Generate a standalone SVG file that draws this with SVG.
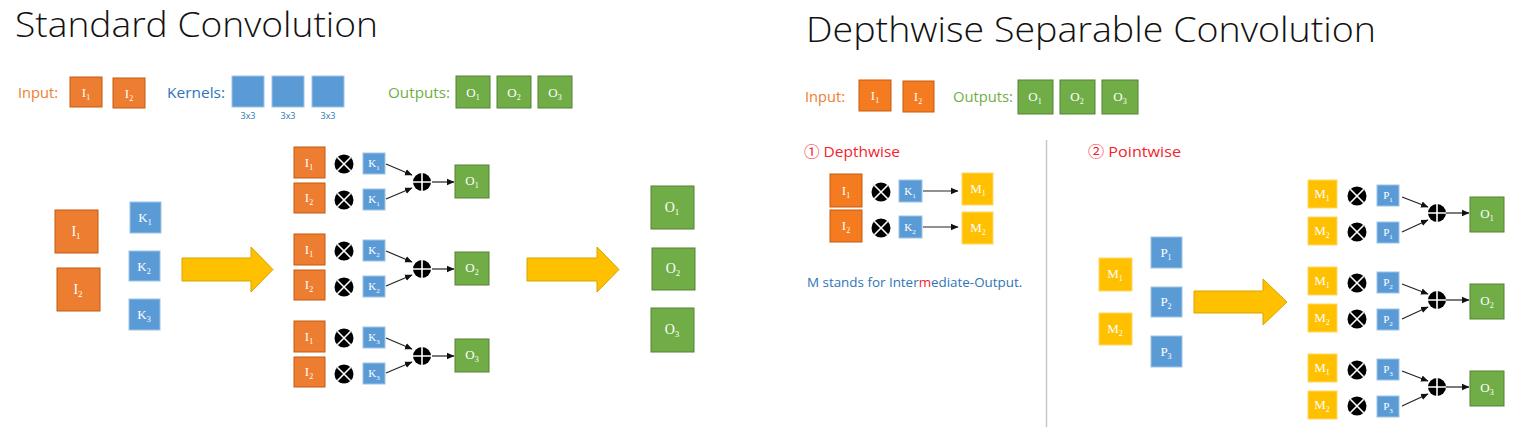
<svg xmlns="http://www.w3.org/2000/svg" xmlns:xlink="http://www.w3.org/1999/xlink" width="1514" height="427" viewBox="0 0 1514 427">
<style>
.title{font-family:"Open Sans","Liberation Sans",sans-serif;font-weight:300;font-size:35px;fill:#111}
.cap{font-family:"Open Sans","Liberation Sans",sans-serif;font-size:15px}
.co{fill:#ED7D31}.cb{fill:#2E75B6}.cg{fill:#70AD47}.cr{fill:#F5222D}
.k33{font-family:"Open Sans","Liberation Sans",sans-serif;font-size:9px;fill:#2E75B6;text-anchor:middle}
.or{fill:#ED7D31;stroke:#C55A11;stroke-width:1}
.or2{fill:#F47B20;stroke:#C55A11;stroke-width:1}
.bl{fill:#5B9BD5;stroke:#9DC3E6;stroke-width:1}
.gr{fill:#70AD47;stroke:#548235;stroke-width:1}
.ye{fill:#FFC000;stroke:#FFD966;stroke-width:1}
.lbl{font-family:"Liberation Serif",serif;fill:#fff;font-size:13px;text-anchor:middle}
.lbs{font-family:"Liberation Serif",serif;fill:#fff;font-size:11px;text-anchor:middle}
.lbb{font-family:"Liberation Serif",serif;fill:#fff;font-size:14px;text-anchor:middle}
.sub{font-size:8px}
.subs{font-size:7px}
.subb{font-size:9px}
.ln{stroke:#222;stroke-width:1.2;fill:none;marker-end:url(#ah)}
.big{fill:#FFC000;stroke:#D9A300;stroke-width:1}
</style>
<defs>
<marker id="ah" markerUnits="userSpaceOnUse" markerWidth="8" markerHeight="8" refX="7" refY="4" orient="auto"><path d="M0,0.8L7.5,4L0,7.2z" fill="#111"/></marker>
<g id="times"><circle r="9.5" fill="#000"/><path d="M-6.7,-6.7L6.7,6.7M6.7,-6.7L-6.7,6.7" stroke="#fff" stroke-width="1.6"/></g>
<g id="plus"><circle r="9" fill="#000"/><path d="M-9,0H9M0,-9V9" stroke="#fff" stroke-width="1.6"/></g>
</defs>
<rect width="1514" height="427" fill="#fff"/>

<!-- Titles -->
<text class="title" x="15" y="37" textLength="363" lengthAdjust="spacingAndGlyphs">Standard Convolution</text>
<text class="title" x="806" y="42" textLength="570" lengthAdjust="spacingAndGlyphs">Depthwise Separable Convolution</text>

<!-- Left legend -->
<g id="legend-left">
<text class="cap co" x="18" y="98" textLength="40" lengthAdjust="spacingAndGlyphs">Input:</text>
<g id="lg-I1"><rect class="or" x="70" y="77" width="32" height="30"/><text class="lbl" x="86" y="97">I<tspan class="sub" dy="3">1</tspan></text></g>
<g id="lg-I2"><rect class="or" x="113" y="78" width="32" height="30"/><text class="lbl" x="129" y="98">I<tspan class="sub" dy="3">2</tspan></text></g>
<text class="cap cb" x="167" y="98" textLength="58" lengthAdjust="spacingAndGlyphs">Kernels:</text>
<g id="lg-K1"><rect class="bl" x="232" y="76" width="32" height="31"/><text class="k33" x="248" y="119">3x3</text></g>
<g id="lg-K2"><rect class="bl" x="272" y="76" width="32" height="31"/><text class="k33" x="288" y="119">3x3</text></g>
<g id="lg-K3"><rect class="bl" x="312" y="76" width="32" height="31"/><text class="k33" x="328" y="119">3x3</text></g>
<text class="cap cg" x="388" y="98" textLength="62" lengthAdjust="spacingAndGlyphs">Outputs:</text>
<g id="lg-O1"><rect class="gr" x="456" y="76" width="34" height="32"/><text class="lbl" x="473" y="97">O<tspan class="sub" dy="3">1</tspan></text></g>
<g id="lg-O2"><rect class="gr" x="497" y="76" width="34" height="32"/><text class="lbl" x="514" y="97">O<tspan class="sub" dy="3">2</tspan></text></g>
<g id="lg-O3"><rect class="gr" x="538" y="76" width="34" height="32"/><text class="lbl" x="555" y="97">O<tspan class="sub" dy="3">3</tspan></text></g>
</g>

<!-- Left inputs & kernels -->
<g id="s-I1"><rect class="or" x="55" y="210" width="43" height="43"/><text class="lbb" x="76" y="236">I<tspan class="subb" dy="3">1</tspan></text></g>
<g id="s-I2"><rect class="or" x="57" y="268" width="43" height="43"/><text class="lbb" x="78" y="294">I<tspan class="subb" dy="3">2</tspan></text></g>
<g id="s-K1"><rect class="bl" x="130" y="202" width="31" height="31"/><text class="lbl" x="145" y="222">K<tspan class="sub" dy="3">1</tspan></text></g>
<g id="s-K2"><rect class="bl" x="129" y="251" width="31" height="30"/><text class="lbl" x="144" y="271">K<tspan class="sub" dy="3">2</tspan></text></g>
<g id="s-K3"><rect class="bl" x="129" y="299" width="31" height="31"/><text class="lbl" x="144" y="319">K<tspan class="sub" dy="3">3</tspan></text></g>

<!-- Standard conv groups -->
<g id="sg1">
<rect class="or" x="294" y="147" width="31" height="31"/><text class="lbl" x="309" y="167">I<tspan class="sub" dy="3">1</tspan></text>
<rect class="or" x="294" y="183" width="31" height="30"/><text class="lbl" x="309" y="202">I<tspan class="sub" dy="3">2</tspan></text>
<use xlink:href="#times" x="344" y="164"/><use xlink:href="#times" x="344" y="200"/>
<rect class="bl" x="363" y="153" width="22" height="21"/><text class="lbs" x="374" y="167">K<tspan class="subs" dy="3">1</tspan></text>
<rect class="bl" x="363" y="189" width="22" height="21"/><text class="lbs" x="374" y="203">K<tspan class="subs" dy="3">1</tspan></text>
<use xlink:href="#plus" x="422" y="182"/>
</g>
<g id="sg1-O"><rect class="gr" x="455" y="165" width="34" height="33"/><text class="lbl" x="472" y="185">O<tspan class="sub" dy="3">1</tspan></text></g>
<g id="sg2">
<rect class="or" x="294" y="234" width="31" height="31"/><text class="lbl" x="309" y="254">I<tspan class="sub" dy="3">1</tspan></text>
<rect class="or" x="294" y="270" width="31" height="30"/><text class="lbl" x="309" y="289">I<tspan class="sub" dy="3">2</tspan></text>
<use xlink:href="#times" x="344" y="251"/><use xlink:href="#times" x="344" y="287"/>
<rect class="bl" x="363" y="240" width="22" height="21"/><text class="lbs" x="374" y="254">K<tspan class="subs" dy="3">2</tspan></text>
<rect class="bl" x="363" y="276" width="22" height="21"/><text class="lbs" x="374" y="290">K<tspan class="subs" dy="3">2</tspan></text>
<use xlink:href="#plus" x="422" y="269"/>
</g>
<g id="sg2-O"><rect class="gr" x="455" y="252" width="34" height="33"/><text class="lbl" x="472" y="272">O<tspan class="sub" dy="3">2</tspan></text></g>
<g id="sg3">
<rect class="or" x="294" y="321" width="31" height="31"/><text class="lbl" x="309" y="341">I<tspan class="sub" dy="3">1</tspan></text>
<rect class="or" x="294" y="357" width="31" height="30"/><text class="lbl" x="309" y="376">I<tspan class="sub" dy="3">2</tspan></text>
<use xlink:href="#times" x="344" y="338"/><use xlink:href="#times" x="344" y="374"/>
<rect class="bl" x="363" y="327" width="22" height="21"/><text class="lbs" x="374" y="341">K<tspan class="subs" dy="3">3</tspan></text>
<rect class="bl" x="363" y="363" width="22" height="21"/><text class="lbs" x="374" y="377">K<tspan class="subs" dy="3">3</tspan></text>
<use xlink:href="#plus" x="422" y="356"/>
</g>
<g id="sg3-O"><rect class="gr" x="455" y="339" width="34" height="33"/><text class="lbl" x="472" y="359">O<tspan class="sub" dy="3">3</tspan></text></g>

<!-- Left outputs stack -->
<g id="s-O1"><rect class="gr" x="651" y="186" width="43" height="43"/><text class="lbb" x="672" y="212">O<tspan class="subb" dy="3">1</tspan></text></g>
<g id="s-O2"><rect class="gr" x="652" y="248" width="43" height="42"/><text class="lbb" x="673" y="273">O<tspan class="subb" dy="3">2</tspan></text></g>
<g id="s-O3"><rect class="gr" x="651" y="308" width="43" height="44"/><text class="lbb" x="672" y="334">O<tspan class="subb" dy="3">3</tspan></text></g>

<!-- Divider -->
<line x1="1046.5" y1="140" x2="1046.5" y2="427" stroke="#C8C8C8" stroke-width="1.5"/>

<!-- Right legend -->
<g id="legend-right">
<text class="cap co" x="805" y="102" textLength="40" lengthAdjust="spacingAndGlyphs">Input:</text>
<g id="rl-I1"><rect class="or2" x="859" y="80" width="32" height="31"/><text class="lbl" x="875" y="100">I<tspan class="sub" dy="3">1</tspan></text></g>
<g id="rl-I2"><rect class="or2" x="903" y="81" width="31" height="31"/><text class="lbl" x="918" y="101">I<tspan class="sub" dy="3">2</tspan></text></g>
<text class="cap cg" x="953" y="102" textLength="60" lengthAdjust="spacingAndGlyphs">Outputs:</text>
<g id="rl-O1"><rect class="gr" x="1018" y="80" width="35" height="34"/><text class="lbl" x="1035" y="101">O<tspan class="sub" dy="3">1</tspan></text></g>
<g id="rl-O2"><rect class="gr" x="1060" y="80" width="35" height="34"/><text class="lbl" x="1077" y="101">O<tspan class="sub" dy="3">2</tspan></text></g>
<g id="rl-O3"><rect class="gr" x="1102" y="80" width="36" height="34"/><text class="lbl" x="1120" y="101">O<tspan class="sub" dy="3">3</tspan></text></g>
</g>

<!-- Depthwise -->
<text class="cap cr" x="804" y="157" font-size="15" textLength="96" lengthAdjust="spacingAndGlyphs" style="font-family:'Open Sans','Noto Sans CJK SC',sans-serif">① Depthwise</text>
<g id="dw">
<rect class="or2" x="830" y="174" width="32" height="33"/><text class="lbl" x="846" y="195">I<tspan class="sub" dy="3">1</tspan></text>
<rect class="or2" x="830" y="210" width="32" height="32"/><text class="lbl" x="846" y="230">I<tspan class="sub" dy="3">2</tspan></text>
<use xlink:href="#times" x="881" y="192"/><use xlink:href="#times" x="881" y="228"/>
<rect class="bl" x="899" y="180" width="23" height="22"/><text class="lbs" x="910" y="195">K<tspan class="subs" dy="3">1</tspan></text>
<rect class="bl" x="899" y="216" width="23" height="22"/><text class="lbs" x="910" y="231">K<tspan class="subs" dy="3">2</tspan></text>
</g>
<g id="dw-M1"><rect class="ye" x="962" y="173" width="31" height="32"/><text class="lbl" x="978" y="193">M<tspan class="sub" dy="3">1</tspan></text></g>
<g id="dw-M2"><rect class="ye" x="962" y="212" width="31" height="32"/><text class="lbl" x="978" y="232">M<tspan class="sub" dy="3">2</tspan></text></g>
<text id="note" class="cb" x="807" y="287" style="font-family:'Open Sans','Liberation Sans',sans-serif;font-size:13.4px">M stands for Inter<tspan class="cr">m</tspan>ediate-Output.</text>

<!-- Pointwise -->
<text class="cap cr" x="1088" y="157" font-size="15" textLength="93" lengthAdjust="spacingAndGlyphs" style="font-family:'Open Sans','Noto Sans CJK SC',sans-serif">② Pointwise</text>
<g id="p-M1"><rect class="ye" x="1099" y="258" width="33" height="33"/><text class="lbl" x="1115" y="278">M<tspan class="sub" dy="3">1</tspan></text></g>
<g id="p-M2"><rect class="ye" x="1099" y="313" width="33" height="32"/><text class="lbl" x="1115" y="333">M<tspan class="sub" dy="3">2</tspan></text></g>
<g id="p-P1"><rect class="bl" x="1151" y="237" width="31" height="31"/><text class="lbl" x="1166" y="257">P<tspan class="sub" dy="3">1</tspan></text></g>
<g id="p-P2"><rect class="bl" x="1151" y="287" width="31" height="30"/><text class="lbl" x="1166" y="306">P<tspan class="sub" dy="3">2</tspan></text></g>
<g id="p-P3"><rect class="bl" x="1151" y="336" width="31" height="31"/><text class="lbl" x="1166" y="356">P<tspan class="sub" dy="3">3</tspan></text></g>

<g id="pg1">
<rect class="ye" x="1308" y="180" width="29" height="28"/><text class="lbl" x="1322" y="198">M<tspan class="sub" dy="3">1</tspan></text>
<rect class="ye" x="1308" y="217" width="29" height="28"/><text class="lbl" x="1322" y="235">M<tspan class="sub" dy="3">2</tspan></text>
<use xlink:href="#times" x="1357" y="196"/><use xlink:href="#times" x="1357" y="232"/>
<rect class="bl" x="1377" y="185" width="22" height="21"/><text class="lbs" x="1388" y="199">P<tspan class="subs" dy="3">1</tspan></text>
<rect class="bl" x="1377" y="222" width="22" height="21"/><text class="lbs" x="1388" y="236">P<tspan class="subs" dy="3">1</tspan></text>
<use xlink:href="#plus" x="1437" y="213"/>
</g>
<g id="pg1-O"><rect class="gr" x="1470" y="197" width="34" height="35"/><text class="lbl" x="1487" y="218">O<tspan class="sub" dy="3">1</tspan></text></g>
<g id="pg2">
<rect class="ye" x="1308" y="267" width="29" height="28"/><text class="lbl" x="1322" y="285">M<tspan class="sub" dy="3">1</tspan></text>
<rect class="ye" x="1308" y="304" width="29" height="28"/><text class="lbl" x="1322" y="322">M<tspan class="sub" dy="3">2</tspan></text>
<use xlink:href="#times" x="1357" y="283"/><use xlink:href="#times" x="1357" y="319"/>
<rect class="bl" x="1377" y="272" width="22" height="21"/><text class="lbs" x="1388" y="286">P<tspan class="subs" dy="3">2</tspan></text>
<rect class="bl" x="1377" y="309" width="22" height="21"/><text class="lbs" x="1388" y="323">P<tspan class="subs" dy="3">2</tspan></text>
<use xlink:href="#plus" x="1437" y="300"/>
</g>
<g id="pg2-O"><rect class="gr" x="1470" y="284" width="34" height="35"/><text class="lbl" x="1487" y="305">O<tspan class="sub" dy="3">2</tspan></text></g>
<g id="pg3">
<rect class="ye" x="1308" y="354" width="29" height="28"/><text class="lbl" x="1322" y="372">M<tspan class="sub" dy="3">1</tspan></text>
<rect class="ye" x="1308" y="391" width="29" height="28"/><text class="lbl" x="1322" y="409">M<tspan class="sub" dy="3">2</tspan></text>
<use xlink:href="#times" x="1357" y="370"/><use xlink:href="#times" x="1357" y="406"/>
<rect class="bl" x="1377" y="359" width="22" height="21"/><text class="lbs" x="1388" y="373">P<tspan class="subs" dy="3">3</tspan></text>
<rect class="bl" x="1377" y="396" width="22" height="21"/><text class="lbs" x="1388" y="410">P<tspan class="subs" dy="3">3</tspan></text>
<use xlink:href="#plus" x="1437" y="387"/>
</g>
<g id="pg3-O"><rect class="gr" x="1470" y="371" width="34" height="35"/><text class="lbl" x="1487" y="392">O<tspan class="sub" dy="3">3</tspan></text></g>

<!-- Connectors -->
<g id="connectors">
<path class="big" d="M182,258H251V247L273,269.5L251,292V281H182Z"/>
<path class="big" d="M527,258H597V247L619,269.5L597,292V281H527Z"/>
<path class="big" d="M1194,291H1263V279L1287,302L1263,325V313H1194Z"/>
<path class="ln" d="M386,164L412,175"/><path class="ln" d="M386,199L412,188"/><path class="ln" d="M432,182H454"/>
<path class="ln" d="M386,251L412,262"/><path class="ln" d="M386,286L412,275"/><path class="ln" d="M432,269H454"/>
<path class="ln" d="M386,338L412,349"/><path class="ln" d="M386,373L412,362"/><path class="ln" d="M432,356H454"/>
<path class="ln" d="M923,191H958"/><path class="ln" d="M923,227H958"/>
<path class="ln" d="M1402,197L1428,207"/><path class="ln" d="M1402,232L1428,220"/><path class="ln" d="M1446,213H1469"/>
<path class="ln" d="M1402,284L1428,294"/><path class="ln" d="M1402,319L1428,307"/><path class="ln" d="M1446,300H1469"/>
<path class="ln" d="M1402,371L1428,381"/><path class="ln" d="M1402,406L1428,394"/><path class="ln" d="M1446,387H1469"/>
</g>
</svg>
